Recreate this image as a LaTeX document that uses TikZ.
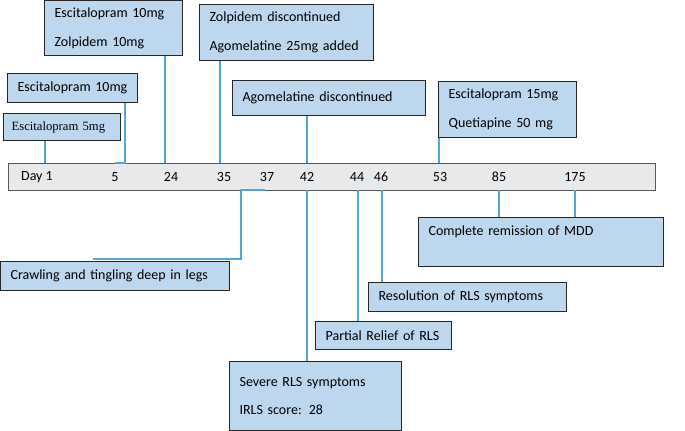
\documentclass[tikz,border=0pt]{standalone}
\usepackage{fontspec}
\setmainfont{Carlito}
\newfontfamily\timesfont{Liberation Serif}
\newlength\px
\setlength\px{0.75pt}
\definecolor{boxblue}{RGB}{189,215,238}
\definecolor{boxline}{RGB}{38,38,38}
\definecolor{barfill}{RGB}{231,233,234}
\definecolor{barline}{RGB}{89,89,89}
\definecolor{linkblue}{RGB}{85,165,210}
\begin{document}
\begin{tikzpicture}[
    x=0.75pt, y=-0.75pt,
    evt/.style={
        rectangle,
        anchor=north west,
        draw=boxline,
        line width=0.9pt,
        fill=boxblue,
        inner xsep=10\px,
        inner ysep=0pt,
        align=left,
        font=\fontsize{10.5}{12.5}\selectfont
    },
    bar/.style={
        rectangle,
        anchor=north west,
        draw=barline,
        line width=0.9pt,
        fill=barfill,
        minimum width=647\px,
        minimum height=27\px
    },
    day/.style={font=\fontsize{10.5}{12.5}\selectfont},
    link/.style={draw=linkblue, line width=0.8pt}
]
\useasboundingbox (0,0) rectangle (685,430);

% timeline
\node[bar] (bar) at (8,163) {};
\node[day] (d1) at (37,177) {Day 1};
\node[day] (d5) at (115,177) {5};
\node[day] (d24) at (171,177) {24};
\node[day] (d35) at (224,177) {35};
\node[day] (d37) at (267,177) {37};
\node[day] (d42) at (307,177) {42};
\node[day] (d44) at (357,177) {44};
\node[day] (d46) at (381,177) {46};
\node[day] (d53) at (440,177) {53};
\node[day] (d85) at (499,177) {85};
\node[day] (d175) at (575,177) {175};

% ticks on the bar
\coordinate (t1) at (45,163);
\coordinate (t5) at (125,163);
\coordinate (t5b) at (115,163);
\coordinate (t24) at (165,163);
\coordinate (t35) at (220,163);
\coordinate (t42) at (307,163);
\coordinate (t53) at (439,163);
\coordinate (b37a) at (265,190);
\coordinate (b37) at (241,190);
\coordinate (c37) at (93,259);
\coordinate (b42) at (307,190);
\coordinate (b44) at (358,190);
\coordinate (b46) at (382,190);
\coordinate (b85) at (499,190);
\coordinate (b175) at (575,190);

% events above
\node[evt, inner xsep=8\px, text width=101\px, minimum height=27\px, font=\timesfont\fontsize{9.5}{12}\selectfont] (esc5) at (3,113) {Escitalopram 5mg};
\node[evt, text width=110\px, minimum height=29\px] (esc10) at (7,73) {Escitalopram 10mg};
\node[evt, text width=118\px, minimum height=55\px] (zol) at (44,0) {Escitalopram 10mg\\[9pt]Zolpidem 10mg};
\node[evt, text width=154\px, minimum height=56\px] (agoadd) at (199,4) {Zolpidem discontinued\\[9pt]Agomelatine 25mg added};
\node[evt, text width=173\px, minimum height=35\px] (agostop) at (232,80) {Agomelatine discontinued};
\node[evt, text width=118\px, minimum height=56\px] (quet) at (438,81) {Escitalopram 15mg\\[9pt]Quetiapine 50 mg};

% events below
\node[evt, text width=209\px, minimum height=29\px] (crawl) at (0,261) {Crawling and tingling deep in legs};
\node[evt, text width=152\px, minimum height=69\px] (severe) at (229,361) {Severe RLS symptoms\\[9pt]IRLS score: 28};
\node[evt, text width=116\px, minimum height=28\px] (partial) at (315,321) {Partial Relief of RLS};
\node[evt, text width=178\px, minimum height=29\px] (resol) at (368,282) {Resolution of RLS symptoms};
\node[evt, text width=225\px, minimum height=49\px] (mdd) at (418,217) {Complete remission of MDD\\[4pt]\mbox{}};

% connectors
\draw[link] (esc5.south -| t1) -- (t1);
\draw[link] (esc10.south -| t5) -- (t5) -- (t5b);
\draw[link] (zol.south -| t24) -- (t24);
\draw[link] (agoadd.south -| t35) -- (t35);
\draw[link] (agostop.south -| t42) -- (t42);
\draw[link] (quet.south -| t53) -- (t53);
\draw[link] (b37a) -- (b37) |- (c37);
\draw[link] (b42) -- (severe.north -| b42);
\draw[link] (b44) -- (partial.north -| b44);
\draw[link] (b46) -- (resol.north -| b46);
\draw[link] (b85) -- (mdd.north -| b85);
\draw[link] (b175) -- (mdd.north -| b175);
\end{tikzpicture}
\end{document}
